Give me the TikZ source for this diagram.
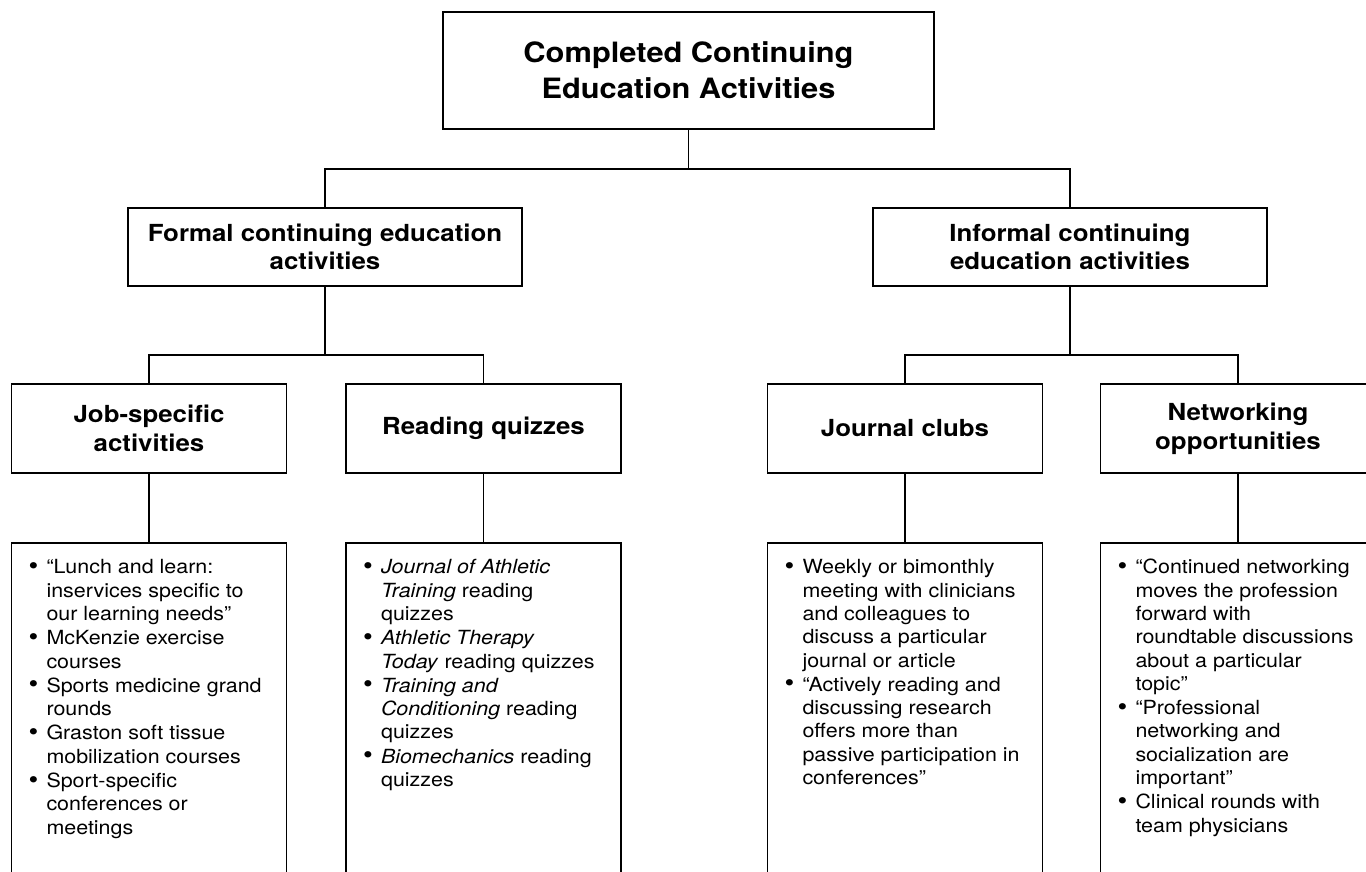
\documentclass[tikz,border=0pt]{standalone}
\usepackage{fontspec}
\setmainfont[FakeStretch=1.1]{TeX Gyre Heros}
\usepackage{tikz}

% one bullet point, lines broken by hand
\newcommand{\itm}[1]{\par\noindent\makebox[18pt][l]{\raisebox{-0.5pt}{\scalebox{1.3}{\textbullet}}}%
  \begin{tabular}[t]{@{}l@{}}#1\end{tabular}}

\tikzset{
  link/.style={line width=1.6pt},
  rootbox/.style={draw, line width=1.6pt, minimum width=491pt, minimum height=117pt,
    align=center, font=\fontsize{28}{36}\selectfont\bfseries},
  kindbox/.style={draw, line width=1.6pt, minimum width=394pt, minimum height=78pt,
    align=center, font=\fontsize{23.5}{28}\selectfont\bfseries},
  typebox/.style={draw, line width=1.6pt, minimum width=275pt, minimum height=89pt,
    align=center, font=\fontsize{23.5}{29}\selectfont\bfseries},
  listbox/.style={draw, line width=1.6pt, anchor=north, inner xsep=17pt,
    inner ysep=14.7pt, text depth=330pt, font=\fontsize{19.5}{23.3}\selectfont}
}

\begin{document}
\begin{tikzpicture}[x=1pt, y=-1pt]
  \useasboundingbox (0,0) rectangle (1366,872);
  \clip (0,0) rectangle (1366,872);

  % Root
  \node[rootbox] (root) at (688.5,70.5) {Completed Continuing\\Education Activities};

  % Formal and informal
  \node[kindbox] (formal) at (325,247) {Formal continuing education\\activities};
  \node[kindbox] (informal) at (1070,247) {Informal continuing\\education activities};

  % Activity types
  \node[typebox] (job) at (149,428.5) {Job-specific\\activities};
  \node[typebox] (quiz) at (483.5,428.5) {Reading quizzes};
  \node[typebox] (club) at (905,428.5) {Journal clubs};
  \node[typebox] (net) at (1238,428.5) {Networking\\opportunities};

  % Examples
  \node[listbox] (joblist) at (149,542) {\parbox[t]{241pt}{\raggedright
    \itm{“Lunch and learn:\\inservices specific to\\our learning needs”}
    \itm{McKenzie exercise\\courses}
    \itm{Sports medicine grand\\rounds}
    \itm{Graston soft tissue\\mobilization courses}
    \itm{Sport-specific\\conferences or\\meetings}}};
  \node[listbox] (quizlist) at (483.5,542) {\parbox[t]{241pt}{\raggedright
    \itm{\textit{Journal of Athletic}\\\textit{Training} reading\\quizzes}
    \itm{\textit{Athletic Therapy}\\\textit{Today} reading quizzes}
    \itm{\textit{Training and}\\\textit{Conditioning} reading\\quizzes}
    \itm{\textit{Biomechanics} reading\\quizzes}}};
  \node[listbox] (clublist) at (905,542) {\parbox[t]{241pt}{\raggedright
    \itm{Weekly or bimonthly\\meeting with clinicians\\and colleagues to\\discuss a particular\\journal or article}
    \itm{“Actively reading and\\discussing research\\offers more than\\passive participation in\\conferences”}}};
  \node[listbox] (netlist) at (1238,542) {\parbox[t]{241pt}{\raggedright
    \itm{“Continued networking\\moves the profession\\forward with\\roundtable discussions\\about a particular\\topic”}
    \itm{“Professional\\networking and\\socialization are\\important”}
    \itm{Clinical rounds with\\team physicians}}};

  % Tree lines
  \coordinate (busroot) at (688.5,169);
  \coordinate (busformal) at (325,355);
  \coordinate (businformal) at (1070,355);
  \draw[link] (root.south) -- (busroot);
  \draw[link] (formal.north) |- (busroot) -| (informal.north);
  \draw[link] (formal.south) -- (busformal);
  \draw[link] (job.north) |- (busformal) -| (quiz.north);
  \draw[link] (informal.south) -- (businformal);
  \draw[link] (club.north) |- (businformal) -| (net.north);
  \draw[link] (job.south) -- (joblist.north);
  \draw[link] (quiz.south) -- (quizlist.north);
  \draw[link] (club.south) -- (clublist.north);
  \draw[link] (net.south) -- (netlist.north);
\end{tikzpicture}
\end{document}
